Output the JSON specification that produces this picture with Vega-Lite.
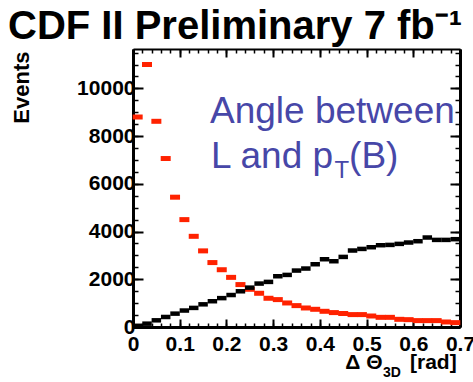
{
  "$schema": "https://vega.github.io/schema/vega-lite/v6.json",
  "width": 327,
  "height": 278,
  "autosize": {"type": "none"},
  "padding": {"left": 133, "top": 49, "right": 13, "bottom": 55},
  "background": "white",
  "config": {"view": {"stroke": null}, "font": "Liberation Sans"},
  "title": {"text": "CDF II Preliminary 7 fb⁻¹", "anchor": "start", "frame": "group", "dx": -125, "dy": 38, "offset": 7, "baseline": "alphabetic", "font": "Liberation Sans", "fontSize": 40, "fontWeight": "bold", "color": "black"},
  "datasets": {
    "black": [
      {"x": 0.01, "events": 50}, {"x": 0.03, "events": 140}, {"x": 0.05, "events": 280}, {"x": 0.07, "events": 420},
      {"x": 0.09, "events": 560}, {"x": 0.11, "events": 690}, {"x": 0.13, "events": 800}, {"x": 0.15, "events": 950},
      {"x": 0.17, "events": 1080}, {"x": 0.19, "events": 1210}, {"x": 0.21, "events": 1340}, {"x": 0.23, "events": 1497},
      {"x": 0.25, "events": 1650}, {"x": 0.27, "events": 1820}, {"x": 0.29, "events": 1890}, {"x": 0.31, "events": 2127},
      {"x": 0.33, "events": 2183}, {"x": 0.35, "events": 2365}, {"x": 0.37, "events": 2450}, {"x": 0.39, "events": 2630},
      {"x": 0.41, "events": 2840}, {"x": 0.43, "events": 2756}, {"x": 0.45, "events": 2937}, {"x": 0.47, "events": 3205},
      {"x": 0.49, "events": 3272}, {"x": 0.51, "events": 3343}, {"x": 0.53, "events": 3427}, {"x": 0.55, "events": 3440},
      {"x": 0.57, "events": 3483}, {"x": 0.59, "events": 3540}, {"x": 0.61, "events": 3595}, {"x": 0.63, "events": 3750},
      {"x": 0.65, "events": 3650}, {"x": 0.67, "events": 3650}, {"x": 0.69, "events": 3680}
    ],
    "red": [
      {"x": 0.01, "events": 8800}, {"x": 0.03, "events": 11000}, {"x": 0.05, "events": 8620}, {"x": 0.07, "events": 7060},
      {"x": 0.09, "events": 5440}, {"x": 0.11, "events": 4500}, {"x": 0.13, "events": 3800}, {"x": 0.15, "events": 3190},
      {"x": 0.17, "events": 2700}, {"x": 0.19, "events": 2400}, {"x": 0.21, "events": 2080}, {"x": 0.23, "events": 1778},
      {"x": 0.25, "events": 1580}, {"x": 0.27, "events": 1413}, {"x": 0.29, "events": 1204}, {"x": 0.31, "events": 1148},
      {"x": 0.33, "events": 1007}, {"x": 0.35, "events": 896}, {"x": 0.37, "events": 797}, {"x": 0.39, "events": 742},
      {"x": 0.41, "events": 658}, {"x": 0.43, "events": 604}, {"x": 0.45, "events": 565}, {"x": 0.47, "events": 520},
      {"x": 0.49, "events": 520}, {"x": 0.51, "events": 461}, {"x": 0.53, "events": 405}, {"x": 0.55, "events": 405},
      {"x": 0.57, "events": 322}, {"x": 0.59, "events": 308}, {"x": 0.61, "events": 268}, {"x": 0.63, "events": 268},
      {"x": 0.65, "events": 268}, {"x": 0.67, "events": 210}, {"x": 0.69, "events": 183}
    ]
  },
  "resolve": {"axis": {"x": "independent", "y": "independent"}},
  "layer": [
    {
      "data": {"name": "red"},
      "mark": {"type": "tick", "orient": "horizontal", "size": 10, "thickness": 5, "color": "#ff2200", "opacity": 1},
      "encoding": {
        "x": {"field": "x", "type": "quantitative", "scale": {"domain": [0, 0.7], "nice": false, "zero": false},
          "axis": {"orient": "bottom", "values": [0, 0.1, 0.2, 0.3, 0.4, 0.5, 0.6, 0.7], "format": "~g", "title": null, "grid": false,
            "tickSize": -8, "tickWidth": 2, "tickColor": "black", "domainWidth": 3, "domainColor": "black",
            "labelFont": "Liberation Sans", "labelFontSize": 21, "labelFontWeight": "bold", "labelColor": "black", "labelPadding": 14, "labelFlush": false, "labelOverlap": false}},
        "y": {"field": "events", "type": "quantitative", "scale": {"domain": [0, 11650], "nice": false},
          "axis": {"orient": "left", "values": [0, 2000, 4000, 6000, 8000, 10000], "format": "d", "grid": false,
            "tickSize": -10, "tickWidth": 2, "tickColor": "black", "domainWidth": 3, "domainColor": "black",
            "labelFont": "Liberation Sans", "labelFontSize": 21, "labelFontWeight": "bold", "labelColor": "black", "labelPadding": 8, "labelOverlap": false,
            "title": "Events", "titleFont": "Liberation Sans", "titleFontSize": 22, "titleFontWeight": "bold", "titleColor": "black",
            "titleAngle": -90, "titleX": -105, "titleY": 2, "titleAlign": "right", "titleBaseline": "alphabetic"}}
      }
    },
    {
      "data": {"name": "black"},
      "mark": {"type": "tick", "orient": "horizontal", "size": 9.5, "thickness": 4.5, "color": "black", "opacity": 1},
      "encoding": {
        "x": {"field": "x", "type": "quantitative",
          "axis": {"orient": "bottom", "values": [0, 0.02, 0.04, 0.06, 0.08, 0.1, 0.12, 0.14, 0.16, 0.18, 0.2, 0.22, 0.24, 0.26, 0.28, 0.3, 0.32, 0.34, 0.36, 0.38, 0.4, 0.42, 0.44, 0.46, 0.48, 0.5, 0.52, 0.54, 0.56, 0.58, 0.6, 0.62, 0.64, 0.66, 0.68, 0.7],
            "labels": false, "domain": false, "grid": false, "title": null, "tickSize": -4, "tickWidth": 1.5, "tickColor": "black"}},
        "y": {"field": "events", "type": "quantitative",
          "axis": {"orient": "left", "values": [0, 500, 1000, 1500, 2000, 2500, 3000, 3500, 4000, 4500, 5000, 5500, 6000, 6500, 7000, 7500, 8000, 8500, 9000, 9500, 10000, 10500, 11000, 11500],
            "labels": false, "domain": false, "grid": false, "title": null, "tickSize": -5, "tickWidth": 1.5, "tickColor": "black"}}
      }
    },
    {
      "data": {"values": [{"label": "Angle between"}]},
      "mark": {"type": "text", "align": "left", "baseline": "alphabetic", "font": "Liberation Sans", "fontSize": 37, "color": "#4747a8"},
      "encoding": {
        "text": {"field": "label"},
        "x": {"datum": 0.1648, "type": "quantitative",
          "axis": {"orient": "top", "values": [0, 0.1, 0.2, 0.3, 0.4, 0.5, 0.6, 0.7], "labels": false, "grid": false, "title": null,
            "tickSize": -8, "tickWidth": 2, "tickColor": "black", "domainWidth": 2, "domainColor": "black"}},
        "y": {"datum": 8536, "type": "quantitative",
          "axis": {"orient": "right", "values": [0, 2000, 4000, 6000, 8000, 10000], "labels": false, "grid": false, "title": null,
            "tickSize": -10, "tickWidth": 2, "tickColor": "black", "domainWidth": 3, "domainColor": "black"}}
      }
    },
    {
      "data": {"values": [{"label": "L and p"}]},
      "mark": {"type": "text", "align": "left", "baseline": "alphabetic", "font": "Liberation Sans", "fontSize": 37, "color": "#4747a8"},
      "encoding": {
        "text": {"field": "label"},
        "x": {"datum": 0.167, "type": "quantitative",
          "axis": {"orient": "top", "values": [0, 0.02, 0.04, 0.06, 0.08, 0.1, 0.12, 0.14, 0.16, 0.18, 0.2, 0.22, 0.24, 0.26, 0.28, 0.3, 0.32, 0.34, 0.36, 0.38, 0.4, 0.42, 0.44, 0.46, 0.48, 0.5, 0.52, 0.54, 0.56, 0.58, 0.6, 0.62, 0.64, 0.66, 0.68, 0.7],
            "labels": false, "domain": false, "grid": false, "title": null, "tickSize": -4, "tickWidth": 1.5, "tickColor": "black"}},
        "y": {"datum": 6650, "type": "quantitative",
          "axis": {"orient": "right", "values": [0, 500, 1000, 1500, 2000, 2500, 3000, 3500, 4000, 4500, 5000, 5500, 6000, 6500, 7000, 7500, 8000, 8500, 9000, 9500, 10000, 10500, 11000, 11500],
            "labels": false, "domain": false, "grid": false, "title": null, "tickSize": -5, "tickWidth": 1.5, "tickColor": "black"}}
      }
    },
    {
      "data": {"values": [{"label": "T"}]},
      "mark": {"type": "text", "align": "left", "baseline": "alphabetic", "font": "Liberation Sans", "fontSize": 24, "color": "#4747a8"},
      "encoding": {
        "text": {"field": "label"},
        "x": {"datum": 0.4311, "type": "quantitative", "axis": null},
        "y": {"datum": 6244, "type": "quantitative", "axis": null}
      }
    },
    {
      "data": {"values": [{"label": "(B)"}]},
      "mark": {"type": "text", "align": "left", "baseline": "alphabetic", "font": "Liberation Sans", "fontSize": 37, "color": "#4747a8"},
      "encoding": {
        "text": {"field": "label"},
        "x": {"datum": 0.4626, "type": "quantitative", "axis": null},
        "y": {"datum": 6650, "type": "quantitative", "axis": null}
      }
    },
    {
      "data": {"values": [{"label": "Δ Θ"}]},
      "mark": {"type": "text", "align": "right", "baseline": "alphabetic", "font": "Liberation Sans", "fontSize": 21, "fontWeight": "bold", "color": "black"},
      "encoding": {
        "text": {"field": "label"},
        "x": {"datum": 0.5341, "type": "quantitative", "axis": null},
        "y": {"datum": -1740, "type": "quantitative", "axis": null}
      }
    },
    {
      "data": {"values": [{"label": "3D"}]},
      "mark": {"type": "text", "align": "left", "baseline": "alphabetic", "font": "Liberation Sans", "fontSize": 14, "fontWeight": "bold", "color": "black"},
      "encoding": {
        "text": {"field": "label"},
        "x": {"datum": 0.5352, "type": "quantitative", "axis": null},
        "y": {"datum": -2110, "type": "quantitative", "axis": null}
      }
    },
    {
      "data": {"values": [{"label": "[rad]"}]},
      "mark": {"type": "text", "align": "left", "baseline": "alphabetic", "font": "Liberation Sans", "fontSize": 21, "fontWeight": "bold", "color": "black"},
      "encoding": {
        "text": {"field": "label"},
        "x": {"datum": 0.593, "type": "quantitative", "axis": null},
        "y": {"datum": -1740, "type": "quantitative", "axis": null}
      }
    }
  ]
}
